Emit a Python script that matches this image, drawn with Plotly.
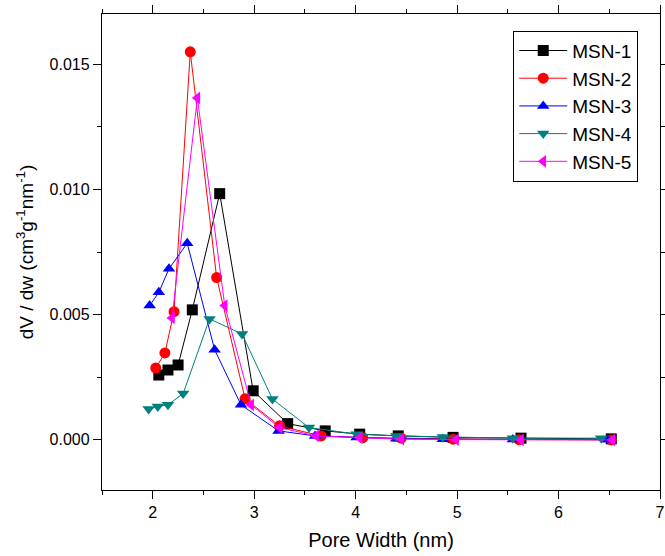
import plotly.graph_objects as go

# Data
msn1_x = [2.06, 2.15, 2.25, 2.39, 2.66, 2.99, 3.33, 3.70, 4.04, 4.42, 4.96, 5.63, 6.52]
msn1_y = [0.00259, 0.00279, 0.00299, 0.00519, 0.00983, 0.00196, 0.00065, 0.00036, 0.00023, 0.00016, 0.00010, 0.00007, 0.00004]

msn2_x = [2.03, 2.12, 2.21, 2.37, 2.63, 2.91, 3.25, 3.66, 4.07, 4.45, 4.96, 5.61, 6.52]
msn2_y = [0.00287, 0.00347, 0.00512, 0.01549, 0.00648, 0.00164, 0.00056, 0.00016, 0.00009, 0.00007, 0.00003, 0.00001, 0.00000]

msn3_x = [1.97, 2.06, 2.16, 2.34, 2.61, 2.87, 3.24, 3.60, 4.01, 4.40, 4.86, 5.55, 6.48]
msn3_y = [0.00536, 0.00589, 0.00683, 0.00785, 0.00360, 0.00140, 0.00036, 0.00016, 0.00010, 0.00005, 0.00003, 0.00002, 0.00001]

msn4_x = [1.96, 2.05, 2.15, 2.30, 2.56, 2.88, 3.18, 3.54, 4.01, 4.40, 4.86, 5.55, 6.42]
msn4_y = [0.00123, 0.00133, 0.00140, 0.00185, 0.00483, 0.00423, 0.00163, 0.00049, 0.00023, 0.00016, 0.00012, 0.00007, 0.00007]

msn5_x = [2.19, 2.44, 2.71, 2.97, 3.25, 3.61, 4.04, 4.45, 4.99, 5.63, 6.53]
msn5_y = [0.00487, 0.01365, 0.00536, 0.00140, 0.00049, 0.00016, 0.00009, 0.00003, 0.00001, 0.00000, 0.00000]

series = [
    ("MSN-1", msn1_x, msn1_y, "#000000", "square"),
    ("MSN-2", msn2_x, msn2_y, "#FF0000", "circle"),
    ("MSN-3", msn3_x, msn3_y, "#0000FF", "triangle-up"),
    ("MSN-4", msn4_x, msn4_y, "#008080", "triangle-down"),
    ("MSN-5", msn5_x, msn5_y, "#FF00FF", "triangle-left"),
]

x_tick_vals = [2, 3, 4, 5, 6, 7]
y_tick_vals = [0.000, 0.005, 0.010, 0.015]
y_tick_text = ["0.000", "0.005", "0.010", "0.015"]

fig = go.Figure()
for name, xs, ys, col, sym in series:
    fig.add_trace(go.Scatter(
        x=xs, y=ys, name=name, mode="lines+markers",
        line=dict(color=col, width=1),
        marker=dict(symbol=sym, size=11, color=col),
    ))

font = "Liberation Sans, Arial, sans-serif"
LW = 1.4
fig.update_layout(
    width=665, height=556,
    margin=dict(l=102, r=5, t=14, b=66),
    paper_bgcolor="white", plot_bgcolor="white",
    font=dict(family=font, color="black"),
    showlegend=True,
    legend=dict(
        x=0.737, y=0.965, xanchor="left", yanchor="top",
        bordercolor="black", borderwidth=1, bgcolor="white",
        font=dict(size=19, family=font), tracegroupgap=0, itemwidth=48,
    ),
    xaxis=dict(
        range=[1.5, 7], tickvals=x_tick_vals, ticks="outside", ticklen=8,
        tickwidth=LW, tickcolor="black", showline=True, linecolor="black",
        linewidth=LW, mirror="ticks", showgrid=False, zeroline=False, automargin=False,
        tickfont=dict(size=16),
        minor=dict(dtick=0.5, ticks="outside", ticklen=4, tickcolor="black", tickwidth=LW),
        title=dict(text="Pore Width (nm)", font=dict(size=20), standoff=12),
    ),
    yaxis=dict(
        range=[-0.002, 0.017], tickvals=y_tick_vals, ticktext=y_tick_text,
        ticks="outside", ticklen=8, tickwidth=LW, tickcolor="black",
        showline=True, linecolor="black", linewidth=LW, mirror="ticks", showgrid=False,
        zeroline=False, automargin=False, tickfont=dict(size=16),
        minor=dict(dtick=0.0025, ticks="outside", ticklen=4, tickcolor="black", tickwidth=LW),
        title=dict(text="dV / dw (cm<sup>3</sup>g<sup>-1</sup>nm<sup>-1</sup>)", font=dict(size=19), standoff=10),
    ),
)

fig.write_html(
    "out.html",
    config={"displayModeBar": False},
    post_script="document.body.style.margin='0';document.body.style.overflow='hidden';",
)
